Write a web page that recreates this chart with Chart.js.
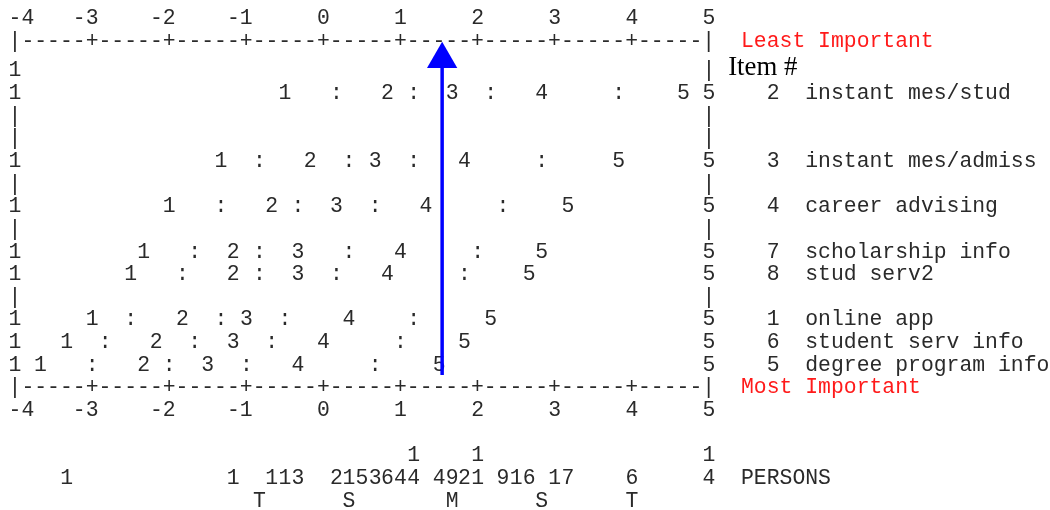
<!DOCTYPE html>
<html>
<head>
<meta charset="utf-8">
<script src="https://cdn.jsdelivr.net/npm/chart.js@4/dist/chart.umd.min.js"></script>
<style>
html, body { margin: 0; padding: 0; background: #fff; }
#wrap { width: 1050px; height: 510px; }
</style>
</head>
<body>
<div id="wrap"><canvas id="myChart" width="1050" height="510"></canvas></div>
<script>
// echelle des mesures (logits)
const axisTicks = [-4, -3, -2, -1, 0, 1, 2, 3, 4, 5]

// items, du haut vers le bas
const itemNumbers = [2, 3, 4, 7, 8, 1, 6, 5]
const itemNames = ['instant mes/stud', 'instant mes/admiss', 'career advising', 'scholarship info',
    'stud serv2', 'online app', 'student serv info', 'degree program info']
const itemRows = [3, 6, 8, 10, 11, 13, 14, 15]

// zones de score attendu : 1 : 2 : 3 : 4 : 5
const scoreMarks = ['1', ':', '2', ':', '3', ':', '4', ':', '5']
const item2 = [-0.5, 0.17, 0.83, 1.17, 1.67, 2.17, 2.83, 3.83, 4.67]
const item3 = [-1.33, -0.83, -0.17, 0.33, 0.67, 1.17, 1.83, 2.83, 3.83]
const item4 = [-2, -1.33, -0.67, -0.33, 0.17, 0.67, 1.33, 2.33, 3.17]
const item7 = [-2.33, -1.67, -1.17, -0.83, -0.33, 0.33, 1, 2, 2.83]
const item8 = [-2.5, -1.83, -1.17, -0.83, -0.33, 0.17, 0.83, 1.83, 2.67]
const item1 = [-3, -2.5, -1.83, -1.33, -1, -0.5, 0.33, 1.17, 2.17]
const item6 = [-3.33, -2.83, -2.17, -1.67, -1.17, -0.67, 0, 1, 1.83]
const item5 = [-3.67, -3, -2.33, -2, -1.5, -1, -0.33, 0.67, 1.5]
const itemZones = [item2, item3, item4, item7, item8, item1, item6, item5]

// distribution des personnes
const personPos = [-3.33, -1.17, -0.67, -0.5, -0.33, 0.17, 0.33, 0.5, 0.67, 0.83, 1, 1.17,
    1.5, 1.67, 1.83, 2, 2.33, 2.5, 2.67, 3, 3.17, 4, 5]
const personCount = [1, 1, 1, 1, 3, 2, 1, 5, 3, 6, 4, 14, 4, 9, 2, 11, 9, 1, 6, 1, 7, 6, 14]
const sdMarks = ['T', 'S', 'M', 'S', 'T']
const sdPos = [-0.83, 0.33, 1.67, 2.83, 4]

// fleche bleue
const arrowX = [1.54, 1.54]
const arrowY = [15.5, 1.55]

const rowH = 22.64
const rowRef = 92   // pixel de la ligne 3

/**
 * dessine la carte en texte a chasse fixe a partir des echelles
 */
const textMap = {
    id: 'textMap',
    beforeDatasetsDraw(chart) {
        const c = chart.ctx
        const xs = chart.scales.x
        const ys = chart.scales.y
        const x0 = xs.getPixelForValue(-4)
        const cw = (xs.getPixelForValue(5) - x0) / 54
        const fs = cw / 0.6
        const colX = col => x0 + col * cw
        const mono = `${fs}px "Liberation Mono", "Courier New", monospace`
        const ink = '#2a2a2a'

        function put(txt, col, row, color) {
            c.font = mono
            c.fillStyle = color || ink
            c.textAlign = 'left'
            c.textBaseline = 'alphabetic'
            c.fillText(txt, colX(col) - cw / 2, ys.getPixelForValue(row) + fs * 0.33)
        }
        function putAt(txt, value, row, color) {
            c.font = mono
            c.fillStyle = color || ink
            c.textAlign = 'center'
            c.textBaseline = 'alphabetic'
            c.fillText(txt, xs.getPixelForValue(value), ys.getPixelForValue(row) + fs * 0.33)
        }

        c.save()
        // axes haut et bas
        for (const row of [-0.3, 17]) {
            axisTicks.forEach(t => {
                const s = String(t)
                let col = Math.round((t + 4) * 6) - (s.length - 1)
                if (col < 0) col = 0
                put(s, col, row)
            })
        }
        // regles pointillees
        let rule = ''
        for (let i = 0; i <= 54; i++) {
            rule += (i === 0 || i === 54) ? '|' : (i % 6 === 0 ? '+' : '-')
        }
        put(rule, 0, 0.7)
        put(rule, 0, 16)
        put('Least Important', 57, 0.7, '#ff1a1a')
        put('Most Important', 57, 16, '#ff1a1a')

        // bords gauche et droit
        for (let r = 2; r <= 15; r++) {
            const isItem = itemRows.includes(r)
            put(isItem || r === 2 ? '1' : '|', 0, r)
            put(isItem ? '5' : '|', 54, r)
        }

        // titre colonne items
        c.font = `${fs * 1.25}px "Liberation Serif", "Times New Roman", serif`
        c.fillStyle = '#000'
        c.textAlign = 'left'
        c.fillText('Item #', colX(56) - cw / 2, ys.getPixelForValue(2) + 6)

        // items
        itemZones.forEach((zones, i) => {
            const r = itemRows[i]
            zones.forEach((v, j) => putAt(scoreMarks[j], v, r))
            put(String(itemNumbers[i]), 59, r)
            put(itemNames[i], 62, r)
        })

        // personnes
        personPos.forEach((v, i) => {
            const n = personCount[i]
            if (n >= 10) putAt(String(Math.floor(n / 10)), v, 19)
            putAt(String(n % 10), v, 20)
        })
        put('PERSONS', 57, 20)
        sdPos.forEach((v, i) => putAt(sdMarks[i], v, 21))
        c.restore()
    }
}

const ctx = document.getElementById('myChart')
const yTop = -0.9
const yBottom = 21.4

new Chart(ctx, {
    type: 'scatter',
    data: {
        datasets: [{
            data: arrowX.map((x, i) => ({ x: x, y: arrowY[i] })),
            showLine: true,
            borderColor: '#0000ff',
            borderWidth: 3.5,
            pointStyle: 'triangle',
            pointRadius: [0, 17.5],
            pointBackgroundColor: '#0000ff',
            pointBorderColor: '#0000ff',
            pointBorderWidth: 0,
            clip: false,
        }]
    },
    options: {
        responsive: false,
        animation: false,
        devicePixelRatio: 1,
        layout: {
            autoPadding: false,
            padding: {
                left: 15,
                right: 1050 - 15 - 54 * 12.85,
                top: rowRef + (yTop - 3) * rowH,
                bottom: 510 - (rowRef + (yBottom - 3) * rowH)
            }
        },
        scales: {
            x: { type: 'linear', min: -4, max: 5, display: false },
            y: { type: 'linear', min: yTop, max: yBottom, reverse: true, display: false }
        },
        plugins: {
            legend: { display: false },
            tooltip: { enabled: false }
        }
    },
    plugins: [textMap]
})
</script>
</body>
</html>
